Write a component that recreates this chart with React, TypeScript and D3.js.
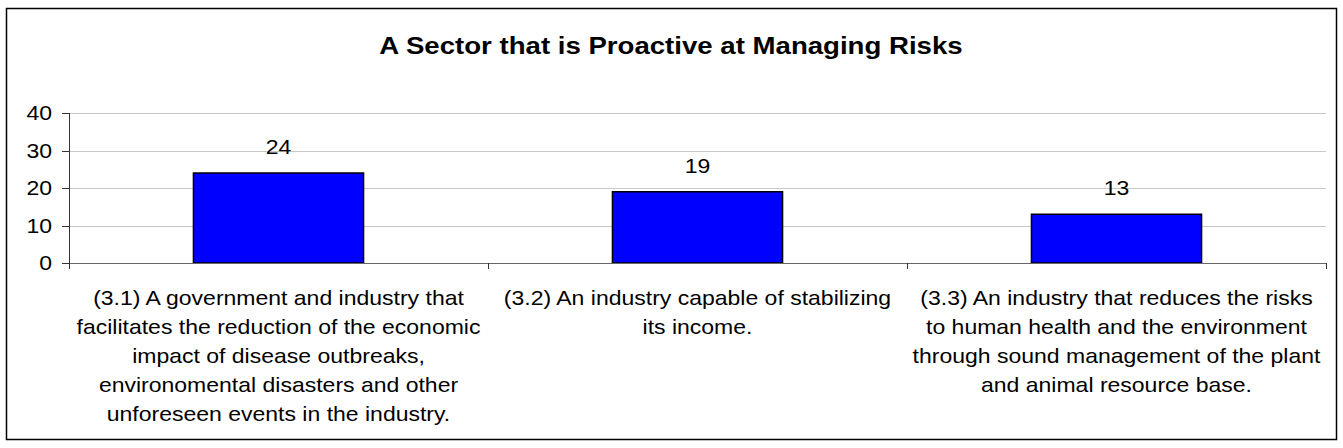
import React from "react";
import * as d3 from "d3";

const title = "A Sector that is Proactive at Managing Risks";
const categories = ["3.1", "3.2", "3.3"];
const values = [24, 19, 13];
const categoryLabels: string[][] = [
  [
    "(3.1) A government and industry that",
    "facilitates the reduction of the economic",
    "impact of disease outbreaks,",
    "environomental disasters and other",
    "unforeseen events in the industry.",
  ],
  ["(3.2) An industry capable of stabilizing", "its income."],
  [
    "(3.3) An industry that reduces the risks",
    "to human health and the environment",
    "through sound management of the plant",
    "and animal resource base.",
  ],
];
const yTicks = [0, 10, 20, 30, 40];

const W = 1343;
const H = 448;
const plot = { left: 69, right: 1326, top: 113, bottom: 263 };
const FONT = "'Liberation Sans', Arial, Helvetica, sans-serif";
const SX = 1.15;

export default function App() {
  const x = d3
    .scaleBand<string>()
    .domain(categories)
    .range([plot.left, plot.right])
    .padding(0);
  const y = d3.scaleLinear().domain([0, 40]).range([plot.bottom, plot.top]);
  const barW = x.bandwidth() * 0.406;

  const T = (props: {
    x: number;
    y: number;
    anchor: string;
    size: number;
    weight?: string;
    children: React.ReactNode;
  }) => (
    <text
      transform={`translate(${props.x},${props.y}) scale(${SX},1)`}
      textAnchor={props.anchor}
      fontSize={props.size}
      fontWeight={props.weight || "normal"}
      fontFamily={FONT}
      fill="#000"
    >
      {props.children}
    </text>
  );

  return (
    <svg
      width={W}
      height={H}
      style={{ position: "absolute", left: 0, top: 0, display: "block" }}
    >
      <rect x={0} y={0} width={W} height={H} fill="#fff" />
      <rect
        x={6.5}
        y={8.5}
        width={1330}
        height={431}
        fill="#fff"
        stroke="#000"
        strokeWidth={1.5}
      />
      <T x={671} y={54} anchor="middle" size={24} weight="bold">
        {title}
      </T>
      {/* gridlines */}
      {yTicks
        .filter((t) => t > 0)
        .map((t) => (
          <line
            key={"g" + t}
            x1={plot.left}
            x2={plot.right}
            y1={Math.round(y(t)) + 0.5}
            y2={Math.round(y(t)) + 0.5}
            stroke="#c8c8c8"
            strokeWidth={1}
          />
        ))}
      {/* y axis */}
      <line
        x1={plot.left + 0.5}
        x2={plot.left + 0.5}
        y1={y(40)}
        y2={y(0)}
        stroke="#333"
        strokeWidth={1}
      />
      {yTicks.map((t) => (
        <g key={"t" + t}>
          <line
            x1={plot.left - 7}
            x2={plot.left}
            y1={Math.round(y(t)) + 0.5}
            y2={Math.round(y(t)) + 0.5}
            stroke="#333"
          />
          <T x={52} y={y(t) + 7} anchor="end" size={20}>
            {t}
          </T>
        </g>
      ))}
      {/* bars */}
      {categories.map((c, i) => {
        const cx = (x(c) as number) + x.bandwidth() / 2;
        return (
          <g key={"b" + c}>
            <rect
              x={cx - barW / 2}
              y={y(values[i])}
              width={barW}
              height={y(0) - y(values[i])}
              fill="#0000ff"
              stroke="#000"
              strokeWidth={1.5}
            />
            <T x={cx} y={y(values[i]) - 19} anchor="middle" size={20}>
              {values[i]}
            </T>
          </g>
        );
      })}
      {/* x axis */}
      <line
        x1={plot.left}
        x2={plot.right}
        y1={Math.round(y(0)) + 0.5}
        y2={Math.round(y(0)) + 0.5}
        stroke="#666"
        strokeWidth={1}
      />
      {[...categories.map((c) => x(c) as number), plot.right].map((px, i) => (
        <line
          key={"xt" + i}
          x1={Math.round(px) + 0.5}
          x2={Math.round(px) + 0.5}
          y1={y(0)}
          y2={y(0) + 6}
          stroke="#333"
        />
      ))}
      {/* category labels */}
      {categories.map((c, i) => {
        const cx = (x(c) as number) + x.bandwidth() / 2;
        return categoryLabels[i].map((line, j) => (
          <T key={c + j} x={cx} y={305 + j * 29} anchor="middle" size={20}>
            {line}
          </T>
        ));
      })}
    </svg>
  );
}
